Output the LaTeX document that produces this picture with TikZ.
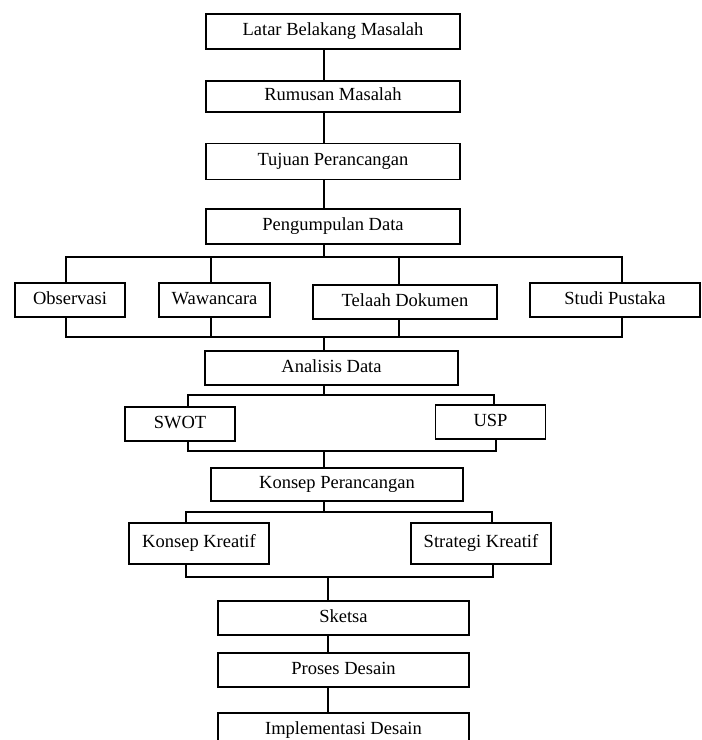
\documentclass[tikz,border=0pt]{standalone}
\usepackage{fontspec}
\setmainfont{Liberation Serif}
\usepackage{tikz}
\usetikzlibrary{positioning}
\tikzstyle{box} = [rectangle, draw=black, line width=1.2pt, inner sep=0pt, text centered, text height=12pt, text depth=4pt, font=\fontsize{18.5}{20}\selectfont]
\tikzstyle{line} = [line width=1.2pt]

\begin{document}
\begin{tikzpicture}[x=1pt, y=-1pt, node distance=65pt]
\useasboundingbox (0,0) rectangle (702,740);
% spine and drop lines
\coordinate (spineA) at (324,0);
\coordinate (spineB) at (328,0);
\coordinate (busA) at (0,257);
\coordinate (busB) at (0,337);
\coordinate (busC) at (0,395);
\coordinate (busD) at (0,451);
\coordinate (busE) at (0,512);
\coordinate (busF) at (0,577);
% main chain
\node (latar) [box, minimum width=254pt, minimum height=35pt] at (333,31.5) {Latar Belakang Masalah};
\node (rumusan) [box, minimum width=254pt, minimum height=31pt, below of = latar] {Rumusan Masalah};
\node (tujuan) [box, minimum width=254pt, minimum height=36pt, below of = rumusan] {Tujuan Perancangan};
\node (kumpul) [box, minimum width=254pt, minimum height=35pt, below of = tujuan] {Pengumpulan Data};
% data sources
\node (obs) [box, minimum width=110pt, minimum height=34pt] at (70,300) {Observasi};
\node (wawan) [box, minimum width=111pt, minimum height=34pt] at (214.5,300) {Wawancara};
\node (telaah) [box, minimum width=184pt, minimum height=34pt] at (405,302) {Telaah Dokumen};
\node (studi) [box, minimum width=170pt, minimum height=34pt] at (615,300) {Studi Pustaka};
\node (analisis) [box, minimum width=253pt, minimum height=34pt] at (331.5,368) {Analisis Data};
\node (swot) [box, minimum width=110pt, minimum height=34pt] at (180,424) {SWOT};
\node (usp) [box, minimum width=110pt, minimum height=34pt] at (490.5,422) {USP};
\node (konsep) [box, minimum width=252pt, minimum height=33pt] at (337,484.5) {Konsep Perancangan};
\node (kreatif) [box, minimum width=140pt, minimum height=41pt] at (199,543.5) {Konsep Kreatif};
\node (strategi) [box, minimum width=140pt, minimum height=41pt] at (481,543.5) {Strategi Kreatif};
\node (sketsa) [box, minimum width=251pt, minimum height=34pt] at (343.5,618) {Sketsa};
\node (proses) [box, minimum width=251pt, minimum height=34pt] at (343.5,670) {Proses Desain};
\node (implem) [box, minimum width=251pt, minimum height=34pt] at (343.5,730) {Implementasi Desain};
% connectors
\draw [line] (latar.south -| spineA) -- (rumusan.north -| spineA);
\draw [line] (rumusan.south -| spineA) -- (tujuan.north -| spineA);
\draw [line] (tujuan.south -| spineA) -- (kumpul.north -| spineA);
\draw [line] (kumpul.south -| spineA) -- (busA -| spineA);
\draw [line] ([xshift=-4pt]obs.north) |- ([xshift=7pt]busA -| studi.north) -- ([xshift=7pt]studi.north);
\draw [line] ([xshift=-3.5pt]wawan.north) -- ([xshift=-3.5pt]busA -| wawan.north);
\draw [line] ([xshift=-6pt]telaah.north) -- ([xshift=-6pt]busA -| telaah.north);
\draw [line] ([xshift=-4pt]obs.south) |- ([xshift=7pt]busB -| studi.south) -- ([xshift=7pt]studi.south);
\draw [line] ([xshift=-3.5pt]wawan.south) -- ([xshift=-3.5pt]busB -| wawan.south);
\draw [line] ([xshift=-6pt]telaah.south) -- ([xshift=-6pt]busB -| telaah.south);
\draw [line] (busB -| spineA) -- (analisis.north -| spineA);
\draw [line] (analisis.south -| spineA) -- (busC -| spineA);
\draw [line] ([xshift=8pt]swot.north) |- ([xshift=3.5pt]busC -| usp.north) -- ([xshift=3.5pt]usp.north);
\draw [line] ([xshift=8pt]swot.south) |- ([xshift=5.5pt]busD -| usp.south) -- ([xshift=5.5pt]usp.south);
\draw [line] (busD -| spineA) -- (konsep.north -| spineA);
\draw [line] (konsep.south -| spineA) -- (busE -| spineA);
\draw [line] ([xshift=-13pt]kreatif.north) |- ([xshift=11pt]busE -| strategi.north) -- ([xshift=11pt]strategi.north);
\draw [line] ([xshift=-13pt]kreatif.south) |- ([xshift=12pt]busF -| strategi.south) -- ([xshift=12pt]strategi.south);
\draw [line] (busF -| spineB) -- (sketsa.north -| spineB);
\draw [line] (sketsa.south -| spineB) -- (proses.north -| spineB);
\draw [line] (proses.south -| spineB) -- (implem.north -| spineB);
\end{tikzpicture}
\end{document}
